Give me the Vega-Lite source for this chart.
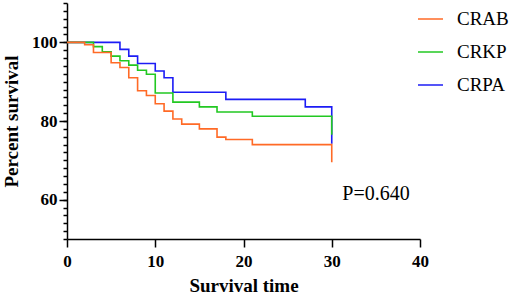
{
  "$schema": "https://vega.github.io/schema/vega-lite/v6.json",
  "autosize": {"type": "none"},
  "width": 353,
  "height": 236,
  "padding": {"left": 67, "top": 3, "right": 90, "bottom": 59},
  "background": "white",
  "config": {"view": {"stroke": null}},
  "datasets": {
    "km": [
      {"group": "CRPA", "t": 0, "s": 100},
      {"group": "CRPA", "t": 6, "s": 98.2},
      {"group": "CRPA", "t": 7, "s": 96.5},
      {"group": "CRPA", "t": 8, "s": 94.6},
      {"group": "CRPA", "t": 10, "s": 92.7},
      {"group": "CRPA", "t": 11, "s": 91.0},
      {"group": "CRPA", "t": 12, "s": 87.3},
      {"group": "CRPA", "t": 18, "s": 85.5},
      {"group": "CRPA", "t": 27, "s": 83.6},
      {"group": "CRPA", "t": 30, "s": 83.6},
      {"group": "CRPA", "t": 30, "s": 74.2},
      {"group": "CRKP", "t": 0, "s": 100},
      {"group": "CRKP", "t": 3, "s": 98.9},
      {"group": "CRKP", "t": 4, "s": 97.6},
      {"group": "CRKP", "t": 5, "s": 96.5},
      {"group": "CRKP", "t": 6, "s": 95.3},
      {"group": "CRKP", "t": 7, "s": 94.2},
      {"group": "CRKP", "t": 8, "s": 92.9},
      {"group": "CRKP", "t": 9, "s": 91.9},
      {"group": "CRKP", "t": 10, "s": 87.1},
      {"group": "CRKP", "t": 12, "s": 84.8},
      {"group": "CRKP", "t": 15, "s": 83.6},
      {"group": "CRKP", "t": 17, "s": 82.3},
      {"group": "CRKP", "t": 21, "s": 81.2},
      {"group": "CRKP", "t": 30, "s": 81.2},
      {"group": "CRKP", "t": 30, "s": 76.5},
      {"group": "CRAB", "t": 0, "s": 100},
      {"group": "CRAB", "t": 2, "s": 99.4},
      {"group": "CRAB", "t": 3, "s": 97.4},
      {"group": "CRAB", "t": 5, "s": 94.8},
      {"group": "CRAB", "t": 6, "s": 93.6},
      {"group": "CRAB", "t": 7, "s": 91.0},
      {"group": "CRAB", "t": 8, "s": 87.7},
      {"group": "CRAB", "t": 9, "s": 86.5},
      {"group": "CRAB", "t": 10, "s": 84.4},
      {"group": "CRAB", "t": 11, "s": 82.5},
      {"group": "CRAB", "t": 12, "s": 80.5},
      {"group": "CRAB", "t": 13, "s": 79.2},
      {"group": "CRAB", "t": 15, "s": 78.0},
      {"group": "CRAB", "t": 17, "s": 75.9},
      {"group": "CRAB", "t": 18, "s": 75.3},
      {"group": "CRAB", "t": 21, "s": 74.0},
      {"group": "CRAB", "t": 30, "s": 74.0},
      {"group": "CRAB", "t": 30, "s": 69.5}
    ],
    "note": [{"label": "P=0.640"}]
  },
  "resolve": {"axis": {"y": "independent"}},
  "layer": [
    {
      "data": {"name": "km"},
      "mark": {"type": "line", "interpolate": "step-after", "strokeWidth": 1.6},
      "encoding": {
        "x": {
          "field": "t", "type": "quantitative",
          "scale": {"domain": [0, 40], "nice": false, "zero": false},
          "axis": {
            "values": [0, 10, 20, 30, 40],
            "grid": false,
            "title": "Survival time",
            "titleFont": "Liberation Serif", "titleFontWeight": "bold", "titleFontSize": 19, "titleColor": "black",
            "titleBaseline": "alphabetic", "titleY": 52, "titleX": 176.5, "titleAlign": "center",
            "labelFont": "Liberation Serif", "labelFontWeight": "bold", "labelFontSize": 17, "labelColor": "black",
            "labelPadding": 6, "labelFlush": false,
            "tickSize": 8, "tickWidth": 1.5, "tickColor": "black",
            "domainWidth": 1.5, "domainColor": "black"
          }
        },
        "y": {
          "field": "s", "type": "quantitative",
          "scale": {"domain": [50, 110], "nice": false, "zero": false},
          "axis": {
            "orient": "left",
            "values": [50, 52, 54, 56, 58, 60, 62, 64, 66, 68, 70, 72, 74, 76, 78, 80, 82, 84, 86, 88, 90, 92, 94, 96, 98, 100, 102, 104, 106, 108, 110],
            "labels": false,
            "grid": false,
            "title": null,
            "tickSize": 4,
            "tickWidth": 1.5, "tickColor": "black",
            "domainWidth": 1.5, "domainColor": "black"
          }
        },
        "color": {
          "field": "group", "type": "nominal",
          "scale": {"domain": ["CRAB", "CRKP", "CRPA"], "range": ["#FF6A26", "#22C822", "#1C1CF5"]},
          "legend": {
            "orient": "none", "legendX": 350, "legendY": 2.5,
            "title": null,
            "symbolType": "stroke", "symbolSize": 625, "symbolStrokeWidth": 1.5,
            "labelFont": "Liberation Serif", "labelFontSize": 19, "labelColor": "black",
            "labelOffset": 13, "rowPadding": 9, "padding": 0
          }
        }
      }
    },
    {
      "data": {"name": "note"},
      "mark": {"type": "text", "font": "Liberation Serif", "fontSize": 20, "align": "left", "baseline": "alphabetic", "color": "black"},
      "encoding": {
        "x": {"datum": 31.2, "type": "quantitative"},
        "y": {
          "datum": 60, "type": "quantitative",
          "axis": {
            "orient": "left",
            "values": [60, 80, 100],
            "grid": false,
            "domain": false,
            "title": "Percent survival",
            "titleFont": "Liberation Serif", "titleFontWeight": "bold", "titleFontSize": 19, "titleColor": "black",
            "titleAngle": -90, "titleBaseline": "alphabetic", "titleAlign": "center", "titleX": -50, "titleY": 118,
            "labelFont": "Liberation Serif", "labelFontWeight": "bold", "labelFontSize": 17, "labelColor": "black",
            "labelPadding": 2, "labelFlush": false, "labelOverlap": false,
            "tickSize": 8, "tickWidth": 1.5, "tickColor": "black"
          }
        },
        "text": {"field": "label"}
      }
    }
  ]
}
